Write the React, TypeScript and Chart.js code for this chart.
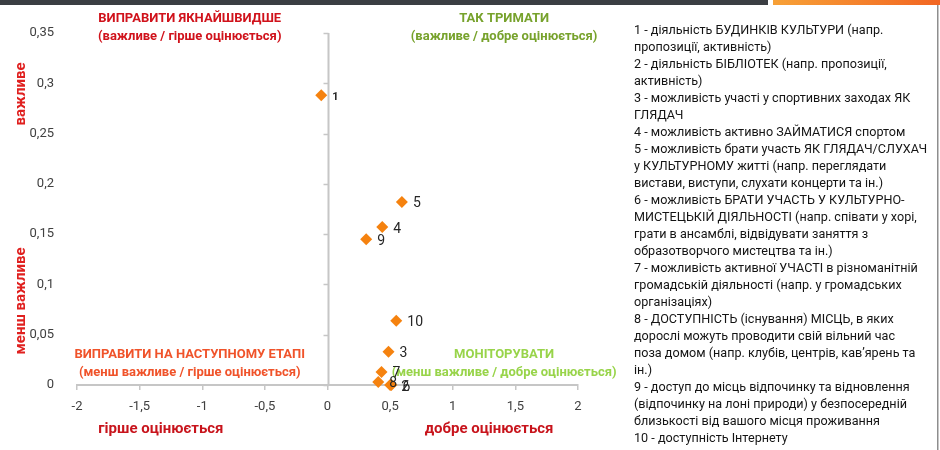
import React, { useEffect, useRef } from "react";
import { Chart, registerables } from "chart.js";

Chart.register(...registerables);

// ---- data ----
const pointLabels = ["1", "2", "3", "4", "5", "6", "7", "8", "9", "10"];
const ratingValues = [-0.05, 0.5, 0.487, 0.437, 0.594, 0.51, 0.431, 0.405, 0.309, 0.549];
const importanceValues = [0.288, 0.0, 0.033, 0.157, 0.182, 0.0, 0.013, 0.003, 0.145, 0.064];
const xTickValues = [-2, -1.5, -1, -0.5, 0, 0.5, 1, 1.5, 2];
const yTickValues = [0, 0.05, 0.1, 0.15, 0.2, 0.25, 0.3, 0.35];

const quadrantTopLeft = ["ВИПРАВИТИ ЯКНАЙШВИДШЕ", "(важливе / гірше оцінюється)"];
const quadrantTopRight = ["ТАК ТРИМАТИ", "(важливе / добре оцінюється)"];
const quadrantBottomLeft = ["ВИПРАВИТИ НА НАСТУПНОМУ ЕТАПІ", "(менш важливе / гірше оцінюється)"];
const quadrantBottomRight = ["МОНІТОРУВАТИ", "(менш важливе / добре оцінюється)"];
const xTitleLeft = "гірше оцінюється";
const xTitleRight = "добре оцінюється";
const yTitleTop = "важливе";
const yTitleBottom = "менш важливе";

const legendLines = [
  "1 - діяльність БУДИНКІВ КУЛЬТУРИ (напр.",
  "пропозиції, активність)",
  "2 - діяльність БІБЛІОТЕК (напр. пропозиції,",
  "активність)",
  "3 - можливість участі у спортивних заходах ЯК",
  "ГЛЯДАЧ",
  "4 - можливість активно ЗАЙМАТИСЯ спортом",
  "5 - можливість брати участь ЯК ГЛЯДАЧ/СЛУХАЧ",
  "у КУЛЬТУРНОМУ житті (напр. переглядати",
  "вистави, виступи, слухати концерти та ін.)",
  "6 - можливість БРАТИ УЧАСТЬ У КУЛЬТУРНО-",
  "МИСТЕЦЬКІЙ ДІЯЛЬНОСТІ (напр. співати у хорі,",
  "грати в ансамблі, відвідувати заняття з",
  "образотворчого мистецтва та ін.)",
  "7 - можливість активної УЧАСТІ в різноманітній",
  "громадській діяльності (напр. у громадських",
  "організаціях)",
  "8 - ДОСТУПНІСТЬ (існування) МІСЦЬ, в яких",
  "дорослі можуть проводити свій вільний час",
  "поза домом (напр. клубів, центрів, кав’ярень та",
  "ін.)",
  "9 - доступ до місць відпочинку та відновлення",
  "(відпочинку на лоні природи) у безпосередній",
  "близькості від вашого місця проживання",
  "10 - доступність Інтернету",
];

const FONT = "Roboto, 'Noto Sans', sans-serif";
const AXIS_GRAY = "#C6C6C6";
const ORANGE = "#F5820F";

const fmt = (v: number) => String(v).replace(".", ",");

const overlayPlugin = {
  id: "overlay",
  beforeDraw(chart: any) {
    const ctx = chart.ctx;
    ctx.save();
    ctx.fillStyle = "#ffffff";
    ctx.fillRect(0, 0, chart.width, chart.height);
    ctx.fillStyle = "#3b3e43";
    ctx.fillRect(0, 0, 768, 5);
    const g = ctx.createLinearGradient(773, 0, 940, 0);
    g.addColorStop(0, "#F7A137");
    g.addColorStop(1, "#F26522");
    ctx.fillStyle = g;
    ctx.fillRect(773, 0, 167, 5);
    ctx.fillStyle = "#8e8e8e";
    ctx.fillRect(937, 5, 1.5, chart.height - 5);
    ctx.restore();
  },
  beforeDatasetsDraw(chart: any) {
    const ctx = chart.ctx;
    const xs = chart.scales.x;
    const ys = chart.scales.y;
    ctx.save();
    // vertical axis at x = 0
    const x0 = Math.round(xs.getPixelForValue(0)) + 0.5;
    ctx.strokeStyle = AXIS_GRAY;
    ctx.lineWidth = 2;
    ctx.beginPath();
    ctx.moveTo(x0, ys.getPixelForValue(yTickValues[yTickValues.length - 1]));
    ctx.lineTo(x0, ys.getPixelForValue(0));
    ctx.stroke();
    ctx.lineWidth = 1.5;
    for (const v of yTickValues) {
      const y = Math.round(ys.getPixelForValue(v)) + 0.5;
      ctx.beginPath();
      ctx.moveTo(x0 - 5, y);
      ctx.lineTo(x0, y);
      ctx.stroke();
    }
    // quadrant titles
    const leftC = xs.getPixelForValue(-1.1);
    const rightC = xs.getPixelForValue(1.41);
    const top = chart.chartArea.top;
    const bottom = chart.chartArea.bottom;
    ctx.textAlign = "center";
    ctx.textBaseline = "middle";
    ctx.font = `bold 13px ${FONT}`;
    const draw = (lines: string[], x: number, y: number, color: string) => {
      ctx.fillStyle = color;
      ctx.fillText(lines[0], x, y);
      ctx.fillText(lines[1], x, y + 18);
    };
    draw(quadrantTopLeft, leftC, top - 14, "#D0121B");
    draw(quadrantTopRight, rightC, top - 14, "#77A22C");
    draw(quadrantBottomLeft, leftC, bottom - 30, "#F0532A");
    draw(quadrantBottomRight, rightC, bottom - 30, "#98D44A");
    ctx.restore();
  },
  afterDatasetsDraw(chart: any) {
    const ctx = chart.ctx;
    const meta = chart.getDatasetMeta(0);
    ctx.save();
    ctx.fillStyle = "#262626";
    ctx.textAlign = "left";
    ctx.textBaseline = "middle";
    meta.data.forEach((pt: any, i: number) => {
      ctx.font = i === 0 ? `bold 11px ${FONT}` : `14px ${FONT}`;
      ctx.fillText(pointLabels[i], pt.x + 11, pt.y + 2);
    });
    ctx.restore();
  },
  afterDraw(chart: any) {
    const ctx = chart.ctx;
    const xs = chart.scales.x;
    const bottom = chart.chartArea.bottom;
    ctx.save();
    // axis titles
    ctx.fillStyle = "#C8141C";
    ctx.font = `bold 15px ${FONT}`;
    ctx.textAlign = "center";
    ctx.textBaseline = "middle";
    ctx.fillText(xTitleLeft, xs.getPixelForValue(-1.33), bottom + 44);
    ctx.fillText(xTitleRight, xs.getPixelForValue(1.29), bottom + 44);
    ctx.fillStyle = "#E0201F";
    const vert = (t: string, x: number, y: number) => {
      ctx.save();
      ctx.translate(x, y);
      ctx.rotate(-Math.PI / 2);
      ctx.fillText(t, 0, 0);
      ctx.restore();
    };
    vert(yTitleTop, 21, 94);
    vert(yTitleBottom, 21, 301);
    // legend text (slightly condensed)
    ctx.fillStyle = "#141414";
    ctx.font = `13px ${FONT}`;
    ctx.textAlign = "left";
    ctx.save();
    ctx.translate(634, 0);
    ctx.scale(0.97, 1);
    legendLines.forEach((line, i) => {
      ctx.fillText(line, 0, 31 + i * 17.0);
    });
    ctx.restore();
    ctx.restore();
  },
};

export default function App() {
  const canvasRef = useRef<HTMLCanvasElement | null>(null);

  useEffect(() => {
    document.body.style.margin = "0";
    const canvas = canvasRef.current;
    if (!canvas) return;
    const chart = new Chart(canvas, {
      type: "scatter",
      data: {
        datasets: [
          {
            data: ratingValues.map((x, i) => ({ x, y: importanceValues[i] })),
            pointStyle: "rectRot",
            pointRadius: 6,
            pointHoverRadius: 6,
            backgroundColor: ORANGE,
            borderColor: ORANGE,
            borderWidth: 0,
            clip: false,
          } as any,
        ],
      },
      options: {
        responsive: false,
        animation: false,
        events: [],
        layout: { padding: { top: 33, right: 362, left: 0, bottom: 0 } },
        plugins: {
          legend: { display: false },
          tooltip: { enabled: false },
          title: { display: false },
        },
        scales: {
          x: {
            type: "linear",
            min: -2,
            max: 2,
            afterBuildTicks: (s: any) => {
              s.ticks = xTickValues.map((v) => ({ value: v }));
            },
            afterFit: (s: any) => {
              s.height = 65;
            },
            border: { display: true, color: AXIS_GRAY, width: 2 },
            grid: {
              drawOnChartArea: false,
              drawTicks: true,
              tickLength: 5,
              color: AXIS_GRAY,
              lineWidth: 1.5,
            },
            ticks: {
              padding: 9,
              color: "#404040",
              font: { family: FONT, size: 13 },
              maxRotation: 0,
              callback: (v: any) => fmt(Number(v)),
            },
          },
          y: {
            type: "linear",
            min: 0,
            max: 0.35,
            afterBuildTicks: (s: any) => {
              s.ticks = yTickValues.map((v) => ({ value: v }));
            },
            afterFit: (s: any) => {
              s.width = 77;
            },
            border: { display: false },
            grid: { display: false },
            ticks: {
              padding: 15,
              color: "#404040",
              font: { family: FONT, size: 13 },
              callback: (v: any) => fmt(Number(v)),
            },
          },
        },
      },
      plugins: [overlayPlugin],
    });
    return () => chart.destroy();
  }, []);

  return (
    <div style={{ width: 940, height: 450 }}>
      <canvas ref={canvasRef} width={940} height={450} style={{ display: "block" }} />
    </div>
  );
}
